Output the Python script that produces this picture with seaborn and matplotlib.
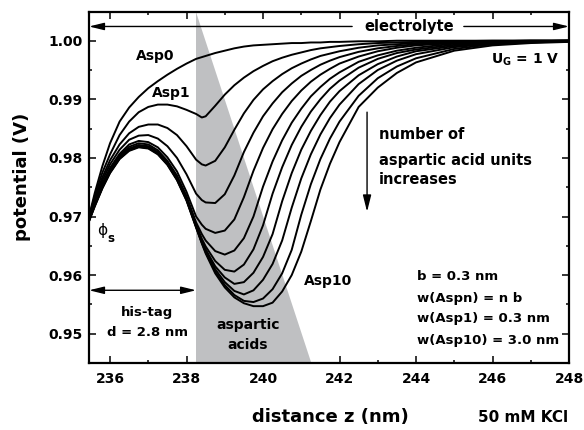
#Import the libraries
import numpy as np
import pandas as pd
import matplotlib
matplotlib.use('Agg')
from matplotlib import pyplot as plt
import seaborn as sb

# distance grid (nm), shared by all curves
z = [235.45, 235.6, 235.8, 236.0, 236.25, 236.5, 236.75, 237.0, 237.25, 237.5,
     237.75, 238.0, 238.25, 238.4, 238.5, 238.75, 239.0, 239.25, 239.5, 239.75,
     240.0, 240.25, 240.5, 240.75, 241.0, 241.25, 241.5, 241.75, 242.0, 242.5,
     243.0, 243.5, 244.0, 245.0, 246.0, 247.0, 248.0]

# potential (V), one list per number of aspartic acid units
asp0 = [0.9700, 0.9740, 0.9786, 0.9825, 0.9862, 0.9886, 0.9904, 0.9919, 0.9931, 0.9942,
        0.9952, 0.9961, 0.9969, 0.9972, 0.9974, 0.9979, 0.9983, 0.9987, 0.9990, 0.9992,
        0.9993, 0.9994, 0.9995, 0.9996, 0.9996, 0.9997, 0.9997, 0.9998, 0.9998, 0.9999,
        0.9999, 1.0000, 1.0000, 1.0000, 1.0000, 1.0000, 1.0000]
asp1 = [0.9699, 0.9735, 0.9775, 0.9806, 0.9839, 0.9862, 0.9878, 0.9887, 0.9891, 0.9891,
        0.9888, 0.9882, 0.9875, 0.9869, 0.9871, 0.9889, 0.9908, 0.9924, 0.9937, 0.9948,
        0.9957, 0.9965, 0.9971, 0.9976, 0.9980, 0.9984, 0.9987, 0.9989, 0.9991, 0.9994,
        0.9996, 0.9997, 0.9998, 0.9999, 1.0000, 1.0000, 1.0000]
asp2 = [0.9697, 0.9730, 0.9767, 0.9796, 0.9823, 0.9842, 0.9853, 0.9857, 0.9857, 0.9851,
        0.9839, 0.9820, 0.9797, 0.9789, 0.9787, 0.9795, 0.9818, 0.9848, 0.9876, 0.9899,
        0.9917, 0.9931, 0.9943, 0.9953, 0.9961, 0.9968, 0.9974, 0.9978, 0.9982, 0.9988,
        0.9992, 0.9994, 0.9996, 0.9998, 0.9999, 1.0000, 1.0000]
asp3 = [0.9696, 0.9727, 0.9762, 0.9789, 0.9814, 0.9831, 0.9838, 0.9839, 0.9833, 0.9820,
        0.9800, 0.9772, 0.9739, 0.9728, 0.9724, 0.9723, 0.9738, 0.9770, 0.9810, 0.9843,
        0.9871, 0.9893, 0.9912, 0.9927, 0.9940, 0.9950, 0.9959, 0.9966, 0.9972, 0.9981,
        0.9987, 0.9991, 0.9994, 0.9997, 0.9999, 1.0000, 1.0000]
asp4 = [0.9695, 0.9724, 0.9757, 0.9783, 0.9807, 0.9823, 0.9829, 0.9827, 0.9818, 0.9801,
        0.9777, 0.9742, 0.9700, 0.9686, 0.9679, 0.9672, 0.9676, 0.9695, 0.9733, 0.9778,
        0.9817, 0.9849, 0.9875, 0.9897, 0.9915, 0.9930, 0.9942, 0.9952, 0.9961, 0.9973,
        0.9982, 0.9988, 0.9992, 0.9996, 0.9998, 0.9999, 1.0000]
asp5 = [0.9694, 0.9722, 0.9754, 0.9780, 0.9804, 0.9819, 0.9825, 0.9823, 0.9813, 0.9795,
        0.9770, 0.9735, 0.9690, 0.9670, 0.9659, 0.9641, 0.9635, 0.9642, 0.9663, 0.9700,
        0.9751, 0.9794, 0.9830, 0.9860, 0.9884, 0.9905, 0.9921, 0.9935, 0.9946, 0.9964,
        0.9975, 0.9983, 0.9988, 0.9995, 0.9998, 0.9999, 1.0000]
asp6 = [0.9693, 0.9721, 0.9752, 0.9778, 0.9802, 0.9816, 0.9822, 0.9820, 0.9810, 0.9792,
        0.9766, 0.9731, 0.9686, 0.9662, 0.9649, 0.9624, 0.9609, 0.9606, 0.9618, 0.9644,
        0.9685, 0.9739, 0.9784, 0.9822, 0.9853, 0.9879, 0.9900, 0.9918, 0.9932, 0.9954,
        0.9969, 0.9979, 0.9985, 0.9993, 0.9997, 0.9999, 1.0000]
asp7 = [0.9693, 0.9720, 0.9751, 0.9777, 0.9801, 0.9815, 0.9821, 0.9819, 0.9809, 0.9791,
        0.9765, 0.9730, 0.9684, 0.9658, 0.9644, 0.9615, 0.9596, 0.9585, 0.9588, 0.9604,
        0.9631, 0.9670, 0.9726, 0.9774, 0.9814, 0.9846, 0.9873, 0.9896, 0.9914, 0.9941,
        0.9960, 0.9973, 0.9982, 0.9991, 0.9996, 0.9998, 0.9999]
asp8 = [0.9693, 0.9719, 0.9750, 0.9776, 0.9800, 0.9814, 0.9820, 0.9818, 0.9808, 0.9790,
        0.9764, 0.9729, 0.9683, 0.9656, 0.9641, 0.9610, 0.9588, 0.9573, 0.9567, 0.9574,
        0.9592, 0.9619, 0.9659, 0.9715, 0.9765, 0.9806, 0.9840, 0.9868, 0.9891, 0.9926,
        0.9950, 0.9966, 0.9977, 0.9989, 0.9995, 0.9998, 0.9999]
asp9 = [0.9692, 0.9718, 0.9749, 0.9775, 0.9799, 0.9813, 0.9819, 0.9817, 0.9807, 0.9789,
        0.9763, 0.9728, 0.9682, 0.9655, 0.9639, 0.9606, 0.9583, 0.9566, 0.9556, 0.9554,
        0.9560, 0.9576, 0.9603, 0.9643, 0.9703, 0.9755, 0.9798, 0.9833, 0.9862, 0.9906,
        0.9936, 0.9956, 0.9970, 0.9986, 0.9994, 0.9997, 0.9999]
asp10 = [0.9692, 0.9717, 0.9748, 0.9774, 0.9798, 0.9812, 0.9818, 0.9816, 0.9806, 0.9788,
         0.9762, 0.9727, 0.9681, 0.9654, 0.9637, 0.9603, 0.9579, 0.9562, 0.9552, 0.9547,
         0.9547, 0.9553, 0.9572, 0.9600, 0.9640, 0.9692, 0.9746, 0.9790, 0.9827, 0.9887,
         0.9920, 0.9945, 0.9963, 0.9983, 0.9992, 0.9996, 0.9998]

curve_names = ['Asp0', 'Asp1', 'Asp2', 'Asp3', 'Asp4', 'Asp5',
               'Asp6', 'Asp7', 'Asp8', 'Asp9', 'Asp10']
curves = [asp0, asp1, asp2, asp3, asp4, asp5, asp6, asp7, asp8, asp9, asp10]

# geometry of the layers
surface = 235.45        # sensor surface
his_tag = 2.8           # nm
b = 0.3                 # nm per aspartic acid
n_max = 10

x_ticks = [236, 238, 240, 242, 244, 246, 248]
y_ticks = [0.95, 0.96, 0.97, 0.98, 0.99, 1.00]
x_lim = (235.45, 248.0)
y_lim = (0.9452, 1.0049)

# long form table for seaborn
data_frame = pd.DataFrame({
    'z': z * len(curves),
    'V': [v for c in curves for v in c],
    'curve': np.repeat(curve_names, len(z)),
})

sb.set_style('ticks')
plt.rcParams['font.family'] = ['DejaVu Sans']
plt.rcParams['font.weight'] = 'bold'
plt.rcParams['mathtext.fontset'] = 'dejavusans'
plt.rcParams['text.color'] = 'black'
plt.rcParams['xtick.color'] = 'black'
plt.rcParams['ytick.color'] = 'black'
plt.rcParams['axes.labelcolor'] = 'black'

fig = plt.figure(figsize=(5.84, 4.30), dpi=100)
ax = fig.add_axes([89 / 584, 1 - 363 / 430, 480 / 584, 351 / 430])

# grey wedge of the aspartic acid layer (width grows to n_max * b)
start = surface + his_tag
ax.fill([start, start, start + n_max * b], [y_lim[1], y_lim[0], y_lim[0]],
        color='#bfc0c2', lw=0, zorder=1)

sb.lineplot(data=data_frame, x='z', y='V', units='curve', estimator=None,
            color='black', linewidth=1.4, legend=False, ax=ax, zorder=3)

ax.set_xlim(*x_lim)
ax.set_ylim(*y_lim)
ax.set_xticks(x_ticks)
ax.set_xticks(np.arange(237, 248, 2), minor=True)
ax.set_yticks(y_ticks)
ax.set_yticks(np.arange(0.945, 1.005, 0.01), minor=True)
ax.set_yticklabels(['%.2f' % t for t in y_ticks])
ax.set_xticklabels([str(t) for t in x_ticks])
ax.set_xlabel('')
ax.set_ylabel('')
for s in ax.spines.values():
    s.set_linewidth(1.6)
    s.set_color('black')
ax.tick_params(which='both', direction='in', top=True, right=True,
               width=1.1, color='black', labelcolor='black', labelsize=10)
ax.tick_params(which='major', length=5)
ax.tick_params(which='minor', length=2.5)
ax.tick_params(axis='x', pad=6.5)
ax.tick_params(axis='y', pad=4.5)

fig.text(0.565, 0.031, 'distance z (nm)', ha='center', va='center', fontsize=13)
fig.text(0.038, 0.588, 'potential (V)', ha='center', va='center', fontsize=13,
         rotation=90)
fig.text(0.8955, 0.028, '50 mM KCl', ha='center', va='center', fontsize=11)

# electrolyte arrow
head = dict(arrowstyle='-|>,head_length=0.9,head_width=0.22', mutation_scale=10,
            color='black', lw=1.0, shrinkA=0, shrinkB=0)
y_el = 1.00243
ax.annotate('', xy=(235.45, y_el), xytext=(242.33, y_el), arrowprops=head)
ax.annotate('', xy=(248.0, y_el), xytext=(245.25, y_el), arrowprops=head)
ax.text(243.82, y_el, 'electrolyte', ha='center', va='center', fontsize=10.5)

# his-tag arrow
both = dict(arrowstyle='<|-|>,head_length=0.9,head_width=0.22', mutation_scale=10,
            color='black', lw=1.0, shrinkA=0, shrinkB=0)
ax.annotate('', xy=(surface, 0.95741), xytext=(start, 0.95741), arrowprops=both)
ax.text(236.96, 0.95362, 'his-tag', ha='center', va='center', fontsize=9.5)
ax.text(236.99, 0.95022, 'd = 2.8 nm', ha='center', va='center', fontsize=9.5)
ax.text(239.61, 0.95141, 'aspartic', ha='center', va='center', fontsize=10)
ax.text(239.61, 0.94801, 'acids', ha='center', va='center', fontsize=10)

# curve labels
ax.text(236.68, 0.99733, 'Asp0', ha='left', va='center', fontsize=10)
ax.text(237.10, 0.99104, 'Asp1', ha='left', va='center', fontsize=10)
ax.text(241.07, 0.95906, 'Asp10', ha='left', va='center', fontsize=10)
ax.text(247.74, 0.99682, r'U$_\mathbf{G}$ = 1 V', ha='right', va='center', fontsize=10)
ax.text(235.66, 0.96757, '\u03d5', ha='left', va='center', fontsize=11,
        fontweight='normal')
ax.text(235.92, 0.96620, 's', ha='left', va='center', fontsize=8.5)

# number of units arrow
ax.annotate('', xy=(242.72, 0.97081), xytext=(242.72, 0.98781),
            arrowprops=dict(arrowstyle='-|>,head_length=1.0,head_width=0.25',
                            mutation_scale=10, color='black', lw=1.0,
                            shrinkA=0, shrinkB=0))
ax.text(243.03, 0.98406, 'number of', ha='left', va='center', fontsize=10.5)
ax.text(243.03, 0.97964, 'aspartic acid units', ha='left', va='center', fontsize=10.5)
ax.text(243.03, 0.97624, 'increases', ha='left', va='center', fontsize=10.5)

# parameters
ax.text(244.03, 0.95969, 'b = 0.3 nm', ha='left', va='center', fontsize=9.5)
ax.text(244.03, 0.95600, 'w(Aspn) = n b', ha='left', va='center', fontsize=9.5)
ax.text(244.03, 0.95260, 'w(Asp1) = 0.3 nm', ha='left', va='center', fontsize=9.5)
ax.text(244.03, 0.94891, 'w(Asp10) = 3.0 nm', ha='left', va='center', fontsize=9.5)

fig.savefig('out.png', dpi=100)
